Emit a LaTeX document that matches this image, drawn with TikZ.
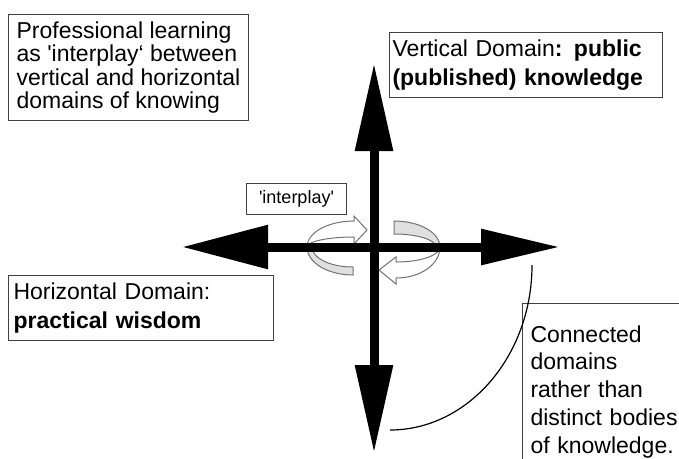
\documentclass[tikz,border=0pt]{standalone}
\usepackage{fontspec}
\setmainfont{Liberation Sans}
\usetikzlibrary{arrows.meta}

\begin{document}
\begin{tikzpicture}[x=1pt, y=-1pt,
        note/.style={draw=black!75, line width=1pt, align=left, anchor=north west,
            font=\fontsize{23}{28.5}\selectfont},
        axis/.style={line width=9pt},
        bandfront/.style={draw=black!55, line width=1pt, fill=white},
        bandback/.style={draw=black!55, line width=1pt, fill=black!12}]
        % Рамка
        \clip (0,0) rectangle (679,458);
        \fill[white] (0,0) rectangle (679,458);

        % Изогнутые стрелки вокруг горизонтальной оси
        \draw[bandback] (307,247) .. controls (307,262.5) and (327.6,275) .. (353,275)
            -- (353,267) .. controls (330,267) and (312,258) .. (312,247) -- cycle;
        \draw[bandfront] (307,247) .. controls (307,232.6) and (328,221) .. (354,221)
            -- (354,216) -- (367,230) -- (354,244) -- (354,237)
            .. controls (328,237) and (307,241.5) .. (307,247) -- cycle;
        \draw[bandback] (394,221) .. controls (419.4,221) and (440,232.6) .. (440,247)
            -- (436,247) .. controls (436,239.8) and (417.2,234) .. (394,234) -- cycle;
        \draw[bandfront] (440,247) .. controls (440,264.1) and (420.7,278) .. (396,278)
            -- (396,284) -- (379,270) -- (396,257) -- (396,262)
            .. controls (420.7,262) and (440,255.3) .. (440,247) -- cycle;

        % Оси
        \coordinate (vtop) at (374,63);
        \coordinate (vbot) at (374,453);
        \coordinate (hleft) at (182,247);
        \coordinate (hright) at (560,247);
        \draw[axis, {Triangle[length=88pt,width=36pt]}-{Triangle[length=88pt,width=36pt]}] (vtop) -- (vbot);
        \draw[axis, {Triangle[length=86pt,width=42pt]}-{Triangle[length=79pt,width=34pt]}] (hleft) -- (hright);

        % Подписи
        \node[note, minimum width=240pt, minimum height=106pt,
            font=\fontsize{23}{23.3}\selectfont] (profnote) at (8,14)
            {Professional learning\\as \textquotesingle interplay‘ between\\vertical and horizontal\\domains of knowing};
        \node[note, text width=267pt, inner xsep=3pt, minimum height=65.6pt] (vertnote) at (389,31.7)
            {Vertical Domain\textbf{: public}\\\textbf{(published) knowledge}};
        \node[note, text width=255pt, inner xsep=5pt, minimum height=65pt] (horiznote) at (8,275)
            {Horizontal Domain:\\\textbf{practical wisdom}};
        \node[note, text width=200pt, inner xsep=8pt, inner ysep=22pt,
            font=\fontsize{23}{27.8}\selectfont] (connnote) at (522,303)
            {Connected\\domains\\rather than\\distinct bodies\\of knowledge.};
        \node[draw=black!75, line width=1pt, minimum width=100pt, minimum height=31pt,
            anchor=north west, font=\fontsize{18}{18}\selectfont] (interplay) at (246,183)
            {\textquotesingle interplay\textquotesingle};

        % Дуга
        \coordinate (arcstart) at (532,265);
        \coordinate (arcend) at (390,430);
        \draw[line width=1.2pt] (arcstart) .. controls (532,356) and (468,430) .. (arcend);
\end{tikzpicture}
\end{document}
